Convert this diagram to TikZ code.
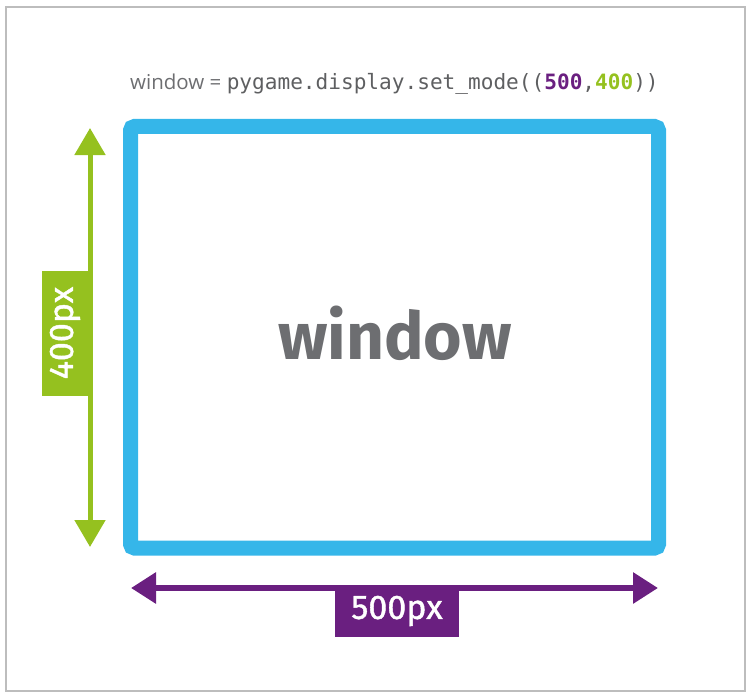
\documentclass[tikz,border=0pt]{standalone}
\usepackage{fontspec}
\setmainfont{Fira Sans}
\newfontfamily\codefont{DejaVu Sans Mono}
\newfontfamily\lightfont{Open Sans}
\newfontfamily\labelfont[FakeBold=1.2]{Fira Sans}
\usetikzlibrary{arrows.meta}
\definecolor{winblue}{HTML}{35B6E9}
\definecolor{dimgreen}{HTML}{95C11F}
\definecolor{dimpurple}{HTML}{6A1F80}
\definecolor{txtgrey}{HTML}{6D6E71}
\definecolor{codegrey}{HTML}{5E5F61}
\definecolor{framegrey}{HTML}{BDBDBD}
\tikzset{
  dimlabel/.style={inner sep=0pt, text=white, font=\labelfont\fontsize{34}{34}\selectfont},
  dimarrow/.style={{Triangle[width=30pt,length=27pt]}-{Triangle[width=30pt,length=27pt]}},
}
\begin{document}
\begin{tikzpicture}[x=1pt,y=-1pt]
\useasboundingbox (0,0) rectangle (752,698);
\draw[framegrey, line width=2pt] (6,7) rectangle (745,691);
% code line
\node[anchor=base west, inner sep=0pt, text=txtgrey] (code) at (130,90)
  {{\lightfont\fontsize{20.5}{20}\selectfont window = }{\codefont\fontsize{21.1}{20}\selectfont\color{codegrey}pygame.display.set\_mode((\textcolor{dimpurple}{\bfseries 500},\textcolor{dimgreen}{\bfseries 400}))}};
% window box
\draw[winblue, line width=15pt, rounded corners=4pt] (130.5,126.5) rectangle (658.5,548);
\node[text=txtgrey, font=\fontsize{66}{66}\selectfont\bfseries] (win) at (395,333) {window};
% height dimension
\coordinate (htop) at (90,128);
\coordinate (hbot) at (90,547);
\draw[dimgreen, line width=5pt, dimarrow] (htop) -- (hbot);
\node[dimlabel, fill=dimgreen, minimum width=125pt, minimum height=46pt, rotate=90] (hlab) at (65,333) {400px};
% width dimension
\coordinate (wl) at (131,588);
\coordinate (wr) at (658,588);
\draw[dimpurple, line width=6pt, {Triangle[width=30pt,length=25pt]}-{Triangle[width=30pt,length=25pt]}] (wl) -- (wr);
\node[dimlabel, fill=dimpurple, minimum width=124pt, minimum height=52pt] (wlab) at (397,611) {500px};
\end{tikzpicture}
\end{document}
